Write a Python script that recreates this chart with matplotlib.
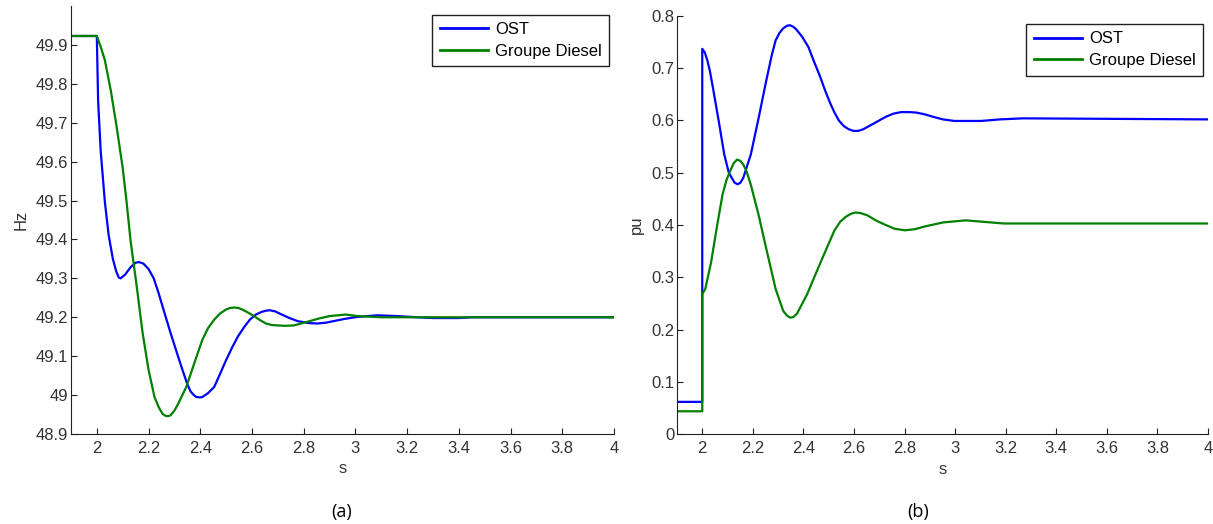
import matplotlib
matplotlib.use("Agg")
import matplotlib.pyplot as plt
from matplotlib.ticker import FuncFormatter

# ---- data ----
# (a) frequency, Hz
t_ost_hz = [1.9, 2.0, 2.005, 2.015, 2.031, 2.046, 2.062, 2.075, 2.085, 2.092, 2.11, 2.131,
            2.15, 2.162, 2.18, 2.2, 2.22, 2.238, 2.26, 2.285, 2.31, 2.331, 2.35, 2.362, 2.375,
            2.385, 2.398, 2.408, 2.43, 2.454, 2.477, 2.5, 2.523, 2.546, 2.57, 2.592, 2.615,
            2.638, 2.655, 2.669, 2.69, 2.715, 2.745, 2.777, 2.82, 2.854, 2.885, 2.915, 2.96,
            3.008, 3.085, 3.162, 3.238, 3.3, 3.4, 3.45, 4.0]
f_ost = [49.923, 49.923, 49.757, 49.627, 49.497, 49.41, 49.35, 49.318, 49.302, 49.300, 49.31, 49.329,
         49.34, 49.342, 49.338, 49.324, 49.300, 49.264, 49.215, 49.16, 49.108, 49.065, 49.028, 49.010, 49.0,
         48.995, 48.994, 48.995, 49.005, 49.021, 49.055, 49.09, 49.122, 49.151, 49.175, 49.194, 49.207,
         49.214, 49.217, 49.218, 49.215, 49.207, 49.198, 49.19, 49.185, 49.184, 49.186, 49.19, 49.196,
         49.201, 49.205, 49.203, 49.200, 49.198, 49.198, 49.200, 49.200]

t_gd_hz = [1.9, 2.0, 2.015, 2.031, 2.054, 2.077, 2.1, 2.115, 2.131, 2.154, 2.177, 2.2,
           2.223, 2.24, 2.254, 2.262, 2.269, 2.277, 2.285, 2.3, 2.315, 2.346, 2.377, 2.408,
           2.43, 2.454, 2.477, 2.5, 2.515, 2.531, 2.547, 2.562, 2.585, 2.608, 2.63, 2.654,
           2.677, 2.7, 2.73, 2.762, 2.823, 2.86, 2.9, 2.962, 3.008, 3.1, 4.0]
f_gd = [49.923, 49.923, 49.895, 49.861, 49.783, 49.688, 49.584, 49.497, 49.394, 49.281, 49.16, 49.065,
        48.995, 48.968, 48.952, 48.948, 48.946, 48.946, 48.948, 48.96, 48.978, 49.021, 49.082, 49.142,
        49.172, 49.194, 49.21, 49.22, 49.224, 49.225, 49.224, 49.22, 49.212, 49.203, 49.193, 49.184,
        49.18, 49.179, 49.178, 49.179, 49.19, 49.197, 49.203, 49.207, 49.203, 49.200, 49.200]

# (b) power, pu
t_ost_pu = [1.9, 2.0, 2.0, 2.01, 2.02, 2.03, 2.042, 2.065, 2.087, 2.105, 2.117, 2.128, 2.14,
            2.151, 2.162, 2.192, 2.223, 2.253, 2.275, 2.29, 2.305, 2.32, 2.335, 2.347, 2.36,
            2.37, 2.395, 2.42, 2.44, 2.465, 2.486, 2.505, 2.523, 2.54, 2.56, 2.58, 2.598,
            2.616, 2.636, 2.67, 2.696, 2.726, 2.756, 2.787, 2.817, 2.847, 2.877, 2.92, 2.952,
            2.997, 3.102, 3.177, 3.267, 4.0]
p_ost = [0.062, 0.062, 0.737, 0.73, 0.715, 0.695, 0.663, 0.599, 0.535, 0.5, 0.49, 0.481, 0.478,
         0.481, 0.49, 0.535, 0.605, 0.676, 0.725, 0.753, 0.767, 0.776, 0.781, 0.782, 0.779,
         0.775, 0.76, 0.74, 0.715, 0.685, 0.657, 0.634, 0.615, 0.6, 0.589, 0.583, 0.58,
         0.58, 0.583, 0.592, 0.599, 0.607, 0.613, 0.616, 0.616, 0.615, 0.612, 0.606, 0.602,
         0.599, 0.599, 0.602, 0.604, 0.602]

t_gd_pu = [1.9, 2.0, 2.0, 2.012, 2.035, 2.057, 2.08, 2.095, 2.11, 2.124, 2.137, 2.15, 2.162,
           2.175, 2.192, 2.223, 2.253, 2.29, 2.32, 2.335, 2.347, 2.36, 2.375, 2.388, 2.415,
           2.44, 2.486, 2.523, 2.545, 2.568, 2.59, 2.606, 2.625, 2.651, 2.69, 2.726, 2.76,
           2.801, 2.84, 2.877, 2.952, 3.042, 3.117, 3.192, 3.373, 4.0]
p_gd = [0.044, 0.044, 0.268, 0.278, 0.329, 0.394, 0.458, 0.485, 0.503, 0.518, 0.525, 0.523, 0.516,
        0.503, 0.477, 0.419, 0.355, 0.278, 0.236, 0.227, 0.223, 0.224, 0.231, 0.243, 0.268,
        0.297, 0.349, 0.39, 0.406, 0.416, 0.422, 0.424, 0.423, 0.419, 0.408, 0.4, 0.393,
        0.39, 0.392, 0.397, 0.405, 0.409, 0.406, 0.403, 0.403, 0.403]

x_ticks = [2, 2.2, 2.4, 2.6, 2.8, 3, 3.2, 3.4, 3.6, 3.8, 4]
hz_ticks = [48.9, 49.0, 49.1, 49.2, 49.3, 49.4, 49.5, 49.6, 49.7, 49.8, 49.9]
pu_ticks = [0, 0.1, 0.2, 0.3, 0.4, 0.5, 0.6, 0.7, 0.8]
series_labels = ["OST", "Groupe Diesel"]

plt.rcParams['font.family'] = ['Liberation Sans', 'DejaVu Sans']
plt.rcParams['font.size'] = 12

BLUE = (0, 0, 1)
GREEN = (0, 0.5, 0)
TXT = '#333333'


def matlab_fmt(v, pos):
    s = '%.1f' % v
    return s[:-2] if s.endswith('.0') else s


def style_axes(ax, yticks):
    ax.spines['top'].set_visible(False)
    ax.spines['right'].set_visible(False)
    ax.spines['left'].set_color('#202020')
    ax.spines['bottom'].set_color('#202020')
    ax.set_xlim(1.9, 4)
    ax.set_xticks(x_ticks)
    ax.set_yticks(yticks)
    ax.xaxis.set_major_formatter(FuncFormatter(matlab_fmt))
    ax.yaxis.set_major_formatter(FuncFormatter(matlab_fmt))
    ax.tick_params(direction='in', length=4, width=0.8, colors='#202020',
                   labelcolor=TXT, labelsize=12)
    ax.tick_params(axis='y', pad=2)
    ax.tick_params(axis='x', pad=5)
    ax.set_xlabel("s", color=TXT, labelpad=4)


def add_legend(ax, anchor):
    leg = ax.legend(loc='upper right', bbox_to_anchor=anchor, borderaxespad=0,
                    fancybox=False, edgecolor='#202020', framealpha=1,
                    handlelength=2.9, borderpad=0.45, labelspacing=0.4,
                    handletextpad=0.4, fontsize=12)
    leg.get_frame().set_linewidth(1.0)
    for line in leg.get_lines():
        line.set_linewidth(2.0)
    return leg


fig = plt.figure(figsize=(12.13, 5.24), dpi=100)

# left panel (a)
ax1 = fig.add_axes([0.0585, 0.1718, 0.4477, 0.8167])
ax1.plot(t_ost_hz, f_ost, color=BLUE, lw=1.6, label=series_labels[0])
ax1.plot(t_gd_hz, f_gd, color=GREEN, lw=1.6, label=series_labels[1])
ax1.set_ylim(48.9, 50.0)
style_axes(ax1, hz_ticks)
ax1.set_ylabel("Hz", color=TXT, labelpad=5)
add_legend(ax1, (0.991, 0.980))

# right panel (b)
ax2 = fig.add_axes([0.5581, 0.1712, 0.4378, 0.7986])
ax2.plot(t_ost_pu, p_ost, color=BLUE, lw=1.6, label=series_labels[0])
ax2.plot(t_gd_pu, p_gd, color=GREEN, lw=1.6, label=series_labels[1])
ax2.set_ylim(0, 0.8)
style_axes(ax2, pu_ticks)
ax2.set_ylabel("pu", color=TXT, labelpad=5)
add_legend(ax2, (0.9906, 0.9805))

# panel captions
fig.text(342 / 1213, 1 - 512 / 524, "(a)", ha='center', va='center',
         family=['Open Sans', 'DejaVu Sans'], fontsize=13)
fig.text(918 / 1213, 1 - 512 / 524, "(b)", ha='center', va='center',
         family=['Open Sans', 'DejaVu Sans'], fontsize=13)

fig.savefig("out.png", dpi=100)
